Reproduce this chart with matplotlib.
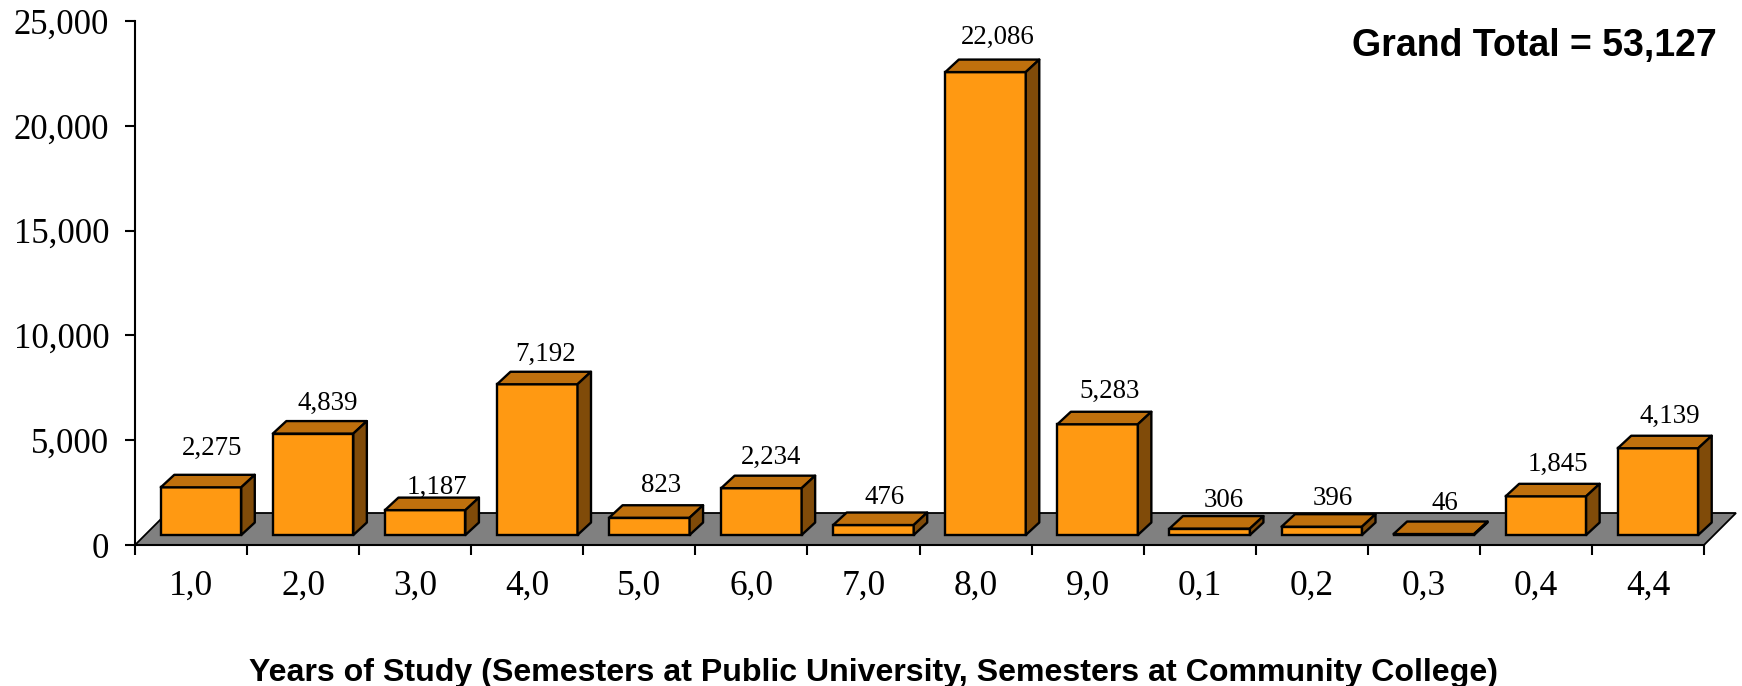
import matplotlib
matplotlib.use("Agg")
import matplotlib.pyplot as plt
from matplotlib.patches import Polygon

categories = ["1,0", "2,0", "3,0", "4,0", "5,0", "6,0", "7,0", "8,0", "9,0",
              "0,1", "0,2", "0,3", "0,4", "4,4"]
values = [2275, 4839, 1187, 7192, 823, 2234, 476, 22086, 5283, 306, 396, 46, 1845, 4139]
y_ticks = [0, 5000, 10000, 15000, 20000, 25000]
grand_total = "Grand Total = 53,127"
x_title = "Years of Study (Semesters at Public University, Semesters at Community College)"

# hand-placed data-label offsets from (category centre, bar value), in pixels
label_dx = [21, 25, 22, 18.5, 22, 20, 21, 22, 22, 24, 21, 21, 21.5, 22]
label_dy = [48.7, 40.6, 32.5, 40.3, 42.7, 40.5, 37.5, 44.5, 43.3, 37.6, 38, 41, 42.3, 42.2]

W, H = 1742, 686
L, R, T, B = 135, 1704, 21, 545
FRONT, TOP, SIDE, FLOOR = "#FF9912", "#BF700D", "#804B09", "#808080"
SERIF = "Liberation Serif"
SANS = "Liberation Sans"

fig = plt.figure(figsize=(W / 100, H / 100), dpi=100, facecolor="white")
ax = fig.add_axes([L / W, 1 - B / H, (R - L) / W, (B - T) / H])
ax.set_xlim(0, len(categories))
ax.set_ylim(0, y_ticks[-1])

px_x = len(categories) / (R - L)
px_y = y_ticks[-1] / (B - T)

# floor
fdx, fdy = 32 * px_x, 32 * px_y
ax.add_patch(Polygon([(0, 0), (len(categories), 0), (len(categories) + fdx, fdy), (fdx, fdy)],
                     closed=True, facecolor=FLOOR, edgecolor="black", linewidth=1.3,
                     clip_on=False, zorder=1))

# bars
lw = 1.7
bar_w = 80.5 * px_x
shift = 10 * px_x
base = 10 * px_y
ddx, ddy = 13.5 * px_x, 12.5 * px_y
for i, v in enumerate(values):
    x0 = i + 0.5 + shift - bar_w / 2
    x1 = x0 + bar_w
    y1 = base + v
    z = 3 + i * 0.1
    ax.bar(x0, v, width=bar_w, bottom=base, align="edge", color=FRONT,
           edgecolor="black", linewidth=lw, clip_on=False, zorder=z)
    ax.add_patch(Polygon([(x0, y1), (x1, y1), (x1 + ddx, y1 + ddy), (x0 + ddx, y1 + ddy)],
                         closed=True, facecolor=TOP, edgecolor="black", linewidth=lw,
                         joinstyle="round", clip_on=False, zorder=z))
    ax.add_patch(Polygon([(x1, base), (x1 + ddx, base + ddy), (x1 + ddx, y1 + ddy), (x1, y1)],
                         closed=True, facecolor=SIDE, edgecolor="black", linewidth=lw,
                         joinstyle="round", clip_on=False, zorder=z))
    ax.annotate(f"{v:,}", xy=(i + 0.5, v), xytext=(label_dx[i] * 0.72, label_dy[i] * 0.72),
                textcoords="offset points", ha="center", va="center",
                fontfamily=SERIF, fontsize=19.4, color="black", zorder=10, annotation_clip=False)

# axes furniture
for s in ("top", "right"):
    ax.spines[s].set_visible(False)
for s in ("left", "bottom"):
    ax.spines[s].set_linewidth(1.5)
    ax.spines[s].set_zorder(2)
ax.patch.set_visible(False)
ax.set_yticks(y_ticks, [f"{t:,}" for t in y_ticks], fontfamily=SERIF, fontsize=25)
ax.set_xticks(range(len(categories) + 1))
ax.set_xticklabels([])
ax.set_xticks([i + 0.5 for i in range(len(categories))], categories, minor=True,
              fontfamily=SERIF, fontsize=25.5)
ax.tick_params(axis="y", which="major", length=7, width=1.5, pad=11.5)
ax.tick_params(axis="x", which="major", length=7, width=1.5)
ax.tick_params(axis="x", which="minor", length=0, pad=18)

ax.set_xlabel(x_title, fontfamily=SANS, fontweight="bold", fontsize=23.1, va="center")
ax.xaxis.set_label_coords((873 - L) / (R - L), -(673 - B) / (B - T))

fig.text(1717 / W, 1 - 46 / H, grand_total, ha="right", va="center",
         fontfamily=SANS, fontweight="bold", fontsize=27, color="black")

fig.savefig("out.png", dpi=100, facecolor="white")
